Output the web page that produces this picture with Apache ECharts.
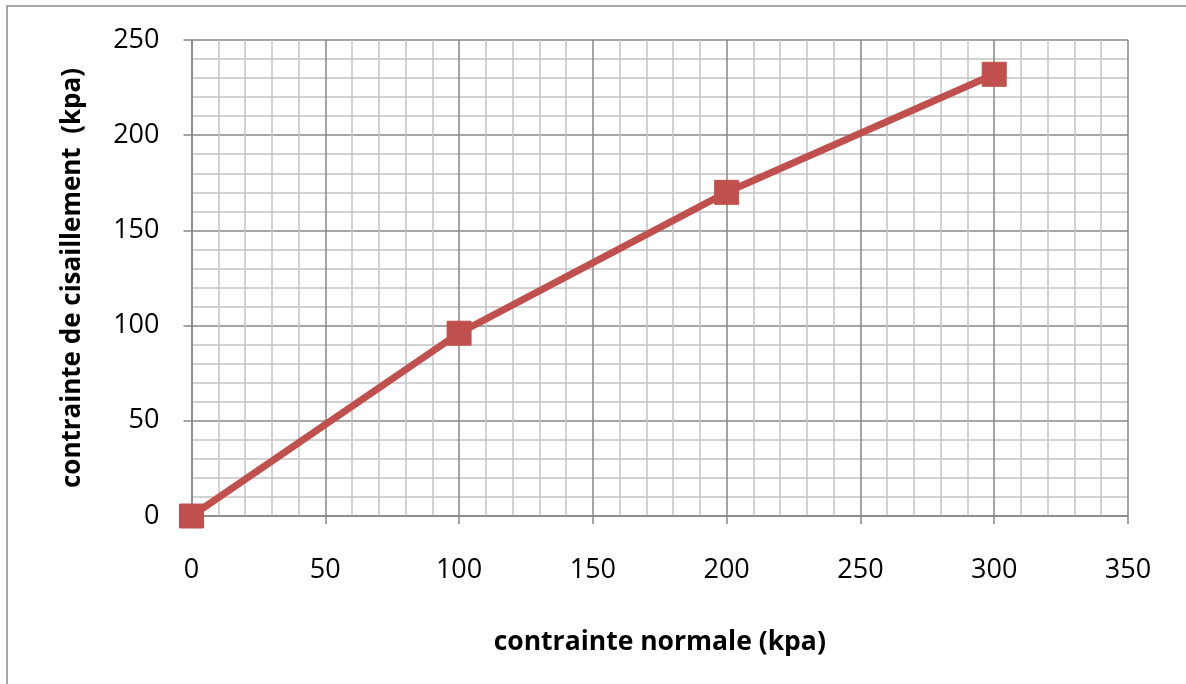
<!DOCTYPE html>
<html>
<head>
<meta charset="utf-8">
<title>contrainte de cisaillement</title>
<script src="https://cdn.jsdelivr.net/npm/echarts@6/dist/echarts.min.js"></script>
<style>
  html, body { margin: 0; padding: 0; background: #ffffff; }
  #chart { width: 1186px; height: 684px; }
</style>
</head>
<body>
<div id="chart"></div>
<script>
// Normal stress (kPa) vs. measured shear stress (kPa)
const contrainteNormale = [0, 100, 200, 300];
const contrainteCisaillement = [0, 96, 170, 232];

const xTitle = 'contrainte normale (kpa)';
const yTitle = 'contrainte de cisaillement  (kpa)';

const FONT = '"Open Sans", "DejaVu Sans", sans-serif';
const GRID_MAJOR = '#878787';
const GRID_MINOR = '#c3c3c3';
const SERIES_RED = '#c0504d';

const points = contrainteNormale.map((x, i) => [x, contrainteCisaillement[i]]);

const chart = echarts.init(document.getElementById('chart'), null, { renderer: 'canvas' });

chart.setOption({
  backgroundColor: '#ffffff',
  animation: false,
  graphic: [{
    type: 'rect',
    shape: { x: 7, y: 6, width: 1200, height: 700 },
    style: { fill: 'none', stroke: '#8c8c8c', lineWidth: 1.5 },
    silent: true
  }],
  grid: { left: 191.5, right: 58, top: 40, bottom: 168 },
  xAxis: {
    type: 'value',
    min: 0, max: 350, interval: 50,
    name: xTitle,
    nameLocation: 'middle',
    nameGap: 113,
    nameTextStyle: { fontFamily: FONT, fontWeight: 'bold', fontSize: 26.5, color: '#000' },
    axisLine: { show: true, lineStyle: { color: GRID_MAJOR, width: 1.5 } },
    axisTick: { show: true, inside: false, length: 8, lineStyle: { color: GRID_MAJOR, width: 1.5 } },
    axisLabel: { margin: 41, fontFamily: FONT, fontSize: 27, color: '#000' },
    splitLine: { show: true, lineStyle: { color: GRID_MAJOR, width: 1.5 } },
    minorTick: { show: false, splitNumber: 5 },
    minorSplitLine: { show: true, lineStyle: { color: GRID_MINOR, width: 1.5 } }
  },
  yAxis: {
    type: 'value',
    min: 0, max: 250, interval: 50,
    name: yTitle,
    nameLocation: 'middle',
    nameGap: 106,
    nameRotate: 90,
    nameTextStyle: { fontFamily: FONT, fontWeight: 'bold', fontSize: 26, color: '#000' },
    axisLine: { show: true, lineStyle: { color: GRID_MAJOR, width: 1.5 } },
    axisTick: { show: true, inside: false, length: 8, lineStyle: { color: GRID_MAJOR, width: 1.5 } },
    axisLabel: { margin: 32, fontFamily: FONT, fontSize: 27, color: '#000' },
    splitLine: { show: true, lineStyle: { color: GRID_MAJOR, width: 1.5 } },
    minorTick: { show: false, splitNumber: 5 },
    minorSplitLine: { show: true, lineStyle: { color: GRID_MINOR, width: 1.5 } }
  },
  series: [{
    type: 'line',
    data: points,
    symbol: 'rect',
    symbolSize: 24,
    showAllSymbol: true,
    clip: false,
    lineStyle: { color: SERIES_RED, width: 7 },
    itemStyle: { color: SERIES_RED, borderColor: SERIES_RED }
  }]
});
</script>
</body>
</html>
